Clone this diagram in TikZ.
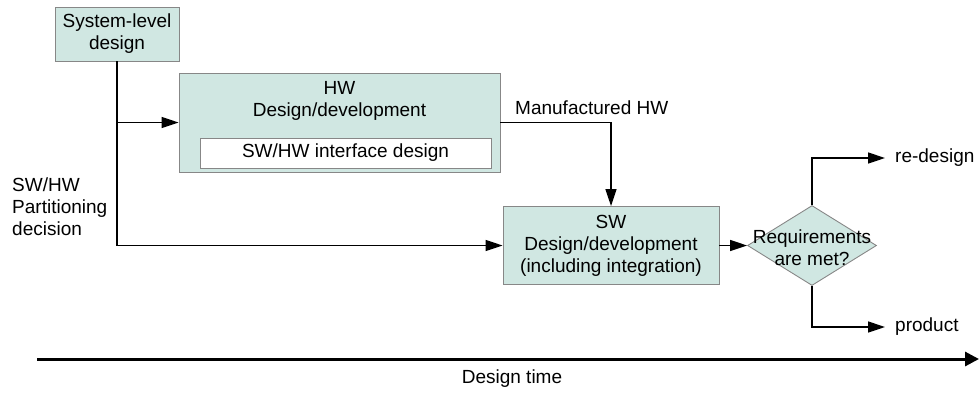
\documentclass[tikz,border=0pt]{standalone}
\usepackage{fontspec}
\setmainfont{Liberation Sans}
\usetikzlibrary{arrows.meta,shapes.geometric}
\definecolor{boxfill}{RGB}{208,231,226}
\definecolor{boxline}{RGB}{135,135,135}
\tikzset{
  every node/.style={font=\fontsize{19}{22}\selectfont},
  box/.style={draw=boxline,line width=0.9pt,fill=boxfill,rectangle,inner sep=0pt},
  txt/.style={align=center,inner sep=0pt},
  conn/.style={line width=1.4pt,-{Triangle[length=17pt,width=11pt]}},
  plain/.style={line width=1.4pt},
}
\begin{document}
\begin{tikzpicture}[x=1pt,y=-1pt]
\useasboundingbox (0,0) rectangle (979,392);
% boxes
\node[box,minimum width=124pt,minimum height=54pt,align=center] (sys) at (117,34) {System-level\\design};
\node[box,minimum width=321pt,minimum height=99pt] (hw) at (339.5,122.5) {};
\node[txt] (hwtxt) at (339.5,101) {HW\\Design/development};
\node[draw=boxline,line width=0.9pt,fill=white,minimum width=291pt,minimum height=30pt,inner sep=0pt] (iface) at (345.5,153) {SW/HW interface design};
\node[box,minimum width=216pt,minimum height=78pt,align=center] (sw) at (611,245.5) {SW\\Design/development\\(including integration)};
\node[draw=boxline,line width=0.9pt,fill=boxfill,diamond,minimum width=129pt,minimum height=80pt,inner sep=0pt] (dia) at (812,245.5) {};
\node[txt] (diatxt) at (812,247.5) {Requirements\\are met?};
% labels
\node[txt,anchor=west] (mfg) at (515,108) {Manufactured HW};
\node[txt,anchor=west,align=left] (part) at (12,207) {SW/HW\\Partitioning\\decision};
\node[txt,anchor=west] (redesign) at (895,158) {re-design};
\node[txt,anchor=west] (product) at (895,327) {product};
\node[txt] (dtime) at (512,379) {Design time};
% connectors
\coordinate (branch) at (117,122.5);
\coordinate (corner) at (117,245.5);
\draw[plain] (sys.south) -- (corner);
\draw[conn] (branch) -- (hw.west);
\draw[conn] (corner) -- (sw.west);
\draw[conn] (hw.east) -| (sw.north);
\draw[conn] (sw.east) -- (dia.west);
\draw[conn] (dia.north) |- ([xshift=-10pt]redesign.west);
\draw[conn] (dia.south) |- ([xshift=-10pt]product.west);
% timeline
\coordinate (tstart) at (37,359);
\coordinate (tend) at (979,359);
\draw[line width=3pt,-{Triangle[length=14pt,width=14pt]}] (tstart) -- (tend);
\end{tikzpicture}
\end{document}
